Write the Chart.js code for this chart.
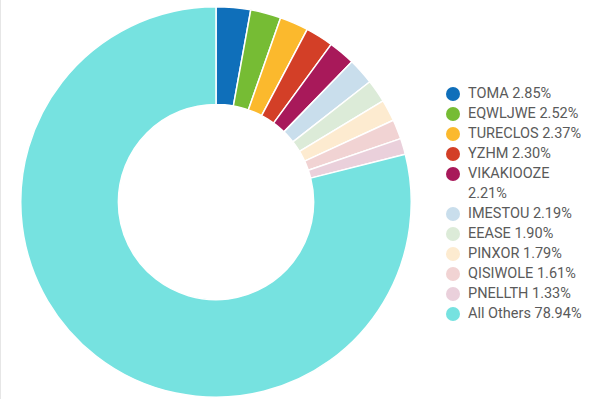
<!DOCTYPE html>
<html>
<head>
<meta charset="utf-8">
<script src="https://cdn.jsdelivr.net/npm/chart.js@4/dist/chart.umd.min.js"></script>
<style>
    body { margin: 0; background: #fff; font-family: Roboto, sans-serif; }
    #wrap { position: relative; width: 600px; height: 399px; border-left: 1px solid #e6e6e6; box-sizing: border-box; }
    #box { position: absolute; left: 14px; top: 2px; width: 402px; height: 400px; }
    #legend { position: absolute; left: 444px; top: 84px; width: 140px; list-style: none; margin: 0; padding: 0; }
    #legend li { position: relative; padding-left: 23px; font-size: 14.5px; line-height: 20px; color: #5a5a5a; }
    #legend span { position: absolute; left: 1px; top: 3px; width: 14px; height: 14px; border-radius: 50%; }
</style>
</head>
<body>
<div id="wrap">
    <div id="box"><canvas id="shareChart"></canvas></div>
    <ul id="legend"></ul>
</div>
<script>
// 数据
const labels = ['TOMA', 'EQWLJWE', 'TURECLOS', 'YZHM', 'VIKAKIOOZE', 'IMESTOU', 'EEASE', 'PINXOR', 'QISIWOLE', 'PNELLTH', 'All Others'];
const shares = [2.85, 2.52, 2.37, 2.30, 2.21, 2.19, 1.90, 1.79, 1.61, 1.33, 78.94];
const colors = ['#0f6fba', '#76bc34', '#fbb92d', '#d33f27', '#a8195a', '#c9deec', '#dcebd8', '#fdebd0', '#f1d3d3', '#ead0db', '#76e2e0'];

const ctx = document.getElementById('shareChart').getContext('2d');
new Chart(ctx, {
    type: 'doughnut',
    data: {
        labels: labels,
        datasets: [{
            data: shares,
            backgroundColor: colors,
            borderColor: '#fff',
            borderWidth: 1.5
        }]
    },
    options: {
        responsive: true,
        maintainAspectRatio: false,
        animation: false,
        cutout: '50%',
        layout: { padding: 4 },
        plugins: {
            legend: { display: false },
            tooltip: { enabled: false }
        }
    }
});

// 图例
const legend = document.getElementById('legend');
labels.forEach((name, i) => {
    const li = document.createElement('li');
    li.innerHTML = '<span style="background:' + colors[i] + '"></span>' + name + ' ' + shares[i].toFixed(2) + '%';
    legend.appendChild(li);
});
</script>
</body>
</html>
